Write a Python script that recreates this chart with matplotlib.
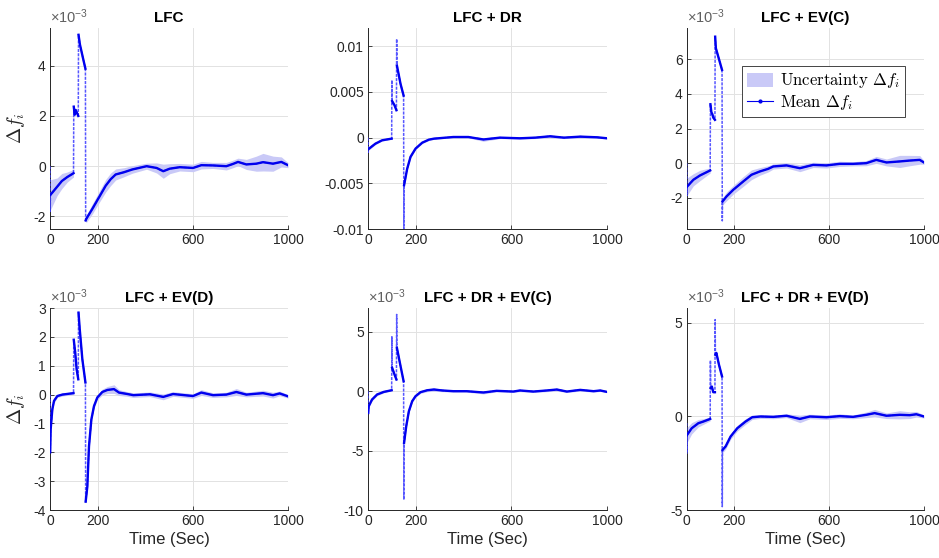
import numpy as np
import matplotlib
matplotlib.use("Agg")
import matplotlib.pyplot as plt
from matplotlib.lines import Line2D
from matplotlib.patches import Patch
from matplotlib.font_manager import FontProperties

plt.rcParams.update({
    "font.family": ["Liberation Sans", "DejaVu Sans"],
    "mathtext.fontset": "cm",
    "mathtext.rm": "Liberation Sans",
    "mathtext.it": "Liberation Sans:italic",
    "mathtext.bf": "Liberation Sans:bold",
    "axes.unicode_minus": False,
})

# ---------------- data (values in units of 1e-3) ----------------
titles = ["LFC", "LFC + DR", "LFC + EV(C)", "LFC + EV(D)", "LFC + DR + EV(C)", "LFC + DR + EV(D)"]
x_ticks = [0, 200, 600, 1000]

t_lfc = [0, 1, 2, 30, 50, 73, 99, 100, 104, 108, 119, 120, 126, 140, 149, 150, 153, 178, 206, 234,
         255, 276, 311, 346, 406, 448, 476, 503, 545, 601, 636, 685, 741, 769, 790, 825, 867, 895, 937, 972, 1000]
m_lfc = [0, -1.8, -1.14, -0.82, -0.59, -0.43, -0.28, 2.37, 2.05, 2.24, 2.0, 5.23, 4.84, 4.25, 3.88, -2.16, -2.09, -1.70, -1.24, -0.78,
         -0.52, -0.33, -0.24, -0.13, 0.0, -0.07, -0.2, -0.1, -0.04, -0.07, 0.04, 0.03, 0.0, 0.09, 0.17, 0.07, 0.1, 0.16, 0.1, 0.17, 0.04]
u_lfc = [0.05, 0.05, 0.6, 0.35, 0.3, 0.2, 0.15, 0.05, 0.05, 0.05, 0.05, 0.05, 0.05, 0.05, 0.05, 0.05, 0.15, 0.2, 0.22, 0.25,
         0.25, 0.22, 0.18, 0.15, 0.12, 0.2, 0.28, 0.2, 0.15, 0.15, 0.15, 0.12, 0.15, 0.15, 0.15, 0.2, 0.3, 0.35, 0.3, 0.2, 0.1]

t_dr = [0, 1, 2, 31, 59, 99, 100, 101, 111, 119, 120, 121, 136, 149, 150, 151, 164, 178, 199, 227,
        255, 276, 357, 420, 483, 552, 636, 700, 762, 820, 888, 958, 1000]
m_dr = [0, -1.6, -1.25, -0.66, -0.29, -0.11, 6.3, 4.0, 3.54, 3.0, 10.8, 7.9, 5.9, 4.6, -10.5, -5.2, -3.4, -2.1, -1.2, -0.55,
        -0.22, -0.11, 0.07, 0.07, -0.2, 0.0, -0.07, 0.0, 0.15, 0.0, 0.11, 0.04, -0.07]
u_dr = [0.05, 0.05, 0.15, 0.1, 0.08, 0.05, 0.05, 0.05, 0.05, 0.05, 0.05, 0.05, 0.05, 0.05, 0.05, 0.1, 0.12, 0.12, 0.1, 0.1,
        0.08, 0.08, 0.08, 0.1, 0.2, 0.1, 0.1, 0.1, 0.15, 0.1, 0.15, 0.1, 0.08]

t_evc = [0, 1, 2, 28, 56, 99, 100, 104, 108, 112, 119, 120, 123, 133, 149, 150, 151, 168, 196, 238,
         273, 308, 343, 365, 421, 477, 533, 589, 645, 701, 757, 799, 842, 898, 940, 982, 1000]
m_evc = [0, -1.87, -1.35, -0.96, -0.71, -0.42, 3.4, 2.94, 2.83, 2.63, 2.5, 7.3, 6.63, 6.15, 5.38, -3.33, -2.21, -1.92, -1.54, -1.06,
         -0.67, -0.48, -0.33, -0.19, -0.13, -0.29, -0.1, -0.13, -0.04, -0.04, 0.0, 0.19, 0.04, 0.1, 0.15, 0.19, 0.04]
u_evc = [0.05, 0.05, 0.5, 0.35, 0.3, 0.15, 0.05, 0.05, 0.05, 0.05, 0.05, 0.05, 0.05, 0.05, 0.05, 0.05, 0.2, 0.25, 0.25, 0.28,
         0.28, 0.22, 0.18, 0.15, 0.15, 0.2, 0.15, 0.15, 0.15, 0.12, 0.15, 0.2, 0.2, 0.35, 0.3, 0.25, 0.1]

t_evd = [0, 1, 3, 10, 17, 31, 52, 99, 100, 106, 112, 119, 120, 125, 136, 149, 150, 157, 164, 174,
         185, 199, 220, 241, 269, 290, 325, 350, 420, 476, 517, 601, 636, 685, 741, 783, 825, 895, 937, 965, 1000]
m_evd = [0, -2.0, -1.2, -0.51, -0.22, -0.05, 0.0, 0.05, 1.9, 1.47, 0.88, 0.53, 2.84, 2.28, 1.23, 0.42, -3.71, -3.19, -1.79, -0.86,
         -0.4, -0.1, 0.09, 0.16, 0.19, 0.07, 0.02, -0.02, 0.01, -0.08, 0.02, -0.05, 0.07, -0.02, 0.0, 0.09, 0.0, 0.05, -0.02, 0.04, -0.06]
u_evd = [0.05, 0.05, 0.15, 0.1, 0.08, 0.05, 0.05, 0.05, 0.05, 0.05, 0.05, 0.05, 0.05, 0.05, 0.05, 0.05, 0.05, 0.1, 0.1, 0.08,
         0.08, 0.08, 0.1, 0.12, 0.15, 0.1, 0.08, 0.08, 0.08, 0.1, 0.08, 0.08, 0.1, 0.08, 0.08, 0.12, 0.08, 0.1, 0.1, 0.08, 0.06]

t_drevc = [0, 1, 3, 17, 38, 66, 99, 100, 101, 111, 119, 120, 121, 132, 149, 150, 151, 160, 171, 185,
           199, 220, 248, 276, 311, 357, 413, 483, 538, 608, 636, 692, 748, 790, 832, 888, 944, 972, 1000]
m_drevc = [0, -1.83, -1.26, -0.7, -0.28, -0.06, 0.08, 4.58, 1.97, 1.4, 0.98, 6.46, 3.65, 2.53, 0.84, -9.13, -4.35, -2.95, -1.69, -0.84,
           -0.42, -0.08, 0.08, 0.14, 0.06, 0.0, 0.0, -0.11, 0.03, -0.03, 0.06, -0.03, 0.06, 0.14, -0.03, 0.11, 0.0, 0.06, -0.06]
u_drevc = [0.05, 0.05, 0.15, 0.12, 0.1, 0.08, 0.05, 0.05, 0.05, 0.05, 0.05, 0.05, 0.05, 0.05, 0.05, 0.05, 0.1, 0.12, 0.12, 0.1,
           0.1, 0.1, 0.12, 0.15, 0.1, 0.08, 0.08, 0.12, 0.08, 0.08, 0.1, 0.08, 0.1, 0.12, 0.08, 0.1, 0.08, 0.08, 0.06]

t_drevd = [0, 1, 2, 21, 49, 70, 99, 100, 101, 106, 112, 119, 120, 121, 125, 136, 149, 150, 151, 164,
           185, 213, 248, 276, 311, 365, 421, 477, 519, 589, 645, 701, 757, 792, 842, 898, 940, 968, 1000]
m_drevd = [-0.35, -1.96, -0.98, -0.63, -0.36, -0.27, -0.13, 3.0, 1.52, 1.6, 1.3, 1.3, 5.18, 3.3, 3.4, 2.77, 2.14, -4.82, -1.79, -1.6,
           -1.07, -0.63, -0.27, -0.04, 0.0, -0.02, 0.04, -0.13, 0.0, -0.04, 0.02, -0.02, 0.09, 0.18, 0.04, 0.09, 0.07, 0.12, 0.0]
u_drevd = [0.05, 0.05, 0.4, 0.3, 0.2, 0.15, 0.1, 0.05, 0.05, 0.05, 0.05, 0.05, 0.05, 0.05, 0.05, 0.05, 0.05, 0.05, 0.15, 0.15,
           0.15, 0.15, 0.15, 0.12, 0.1, 0.1, 0.1, 0.2, 0.12, 0.12, 0.12, 0.1, 0.15, 0.2, 0.15, 0.22, 0.18, 0.15, 0.08]

y_limits = [(-2.5, 5.5), (-10, 12), (-3.8, 7.8), (-4, 3), (-10, 7), (-5, 5.8)]
y_ticks = [[-2, 0, 2, 4], [-10, -5, 0, 5, 10], [-2, 0, 2, 4, 6],
           [-4, -3, -2, -1, 0, 1, 2, 3], [-10, -5, 0, 5], [-5, 0, 5]]
y_ticklabels_dr = ["-0.01", "-0.005", "0", "0.005", "0.01"]

series = [(t_lfc, m_lfc, u_lfc), (t_dr, m_dr, u_dr), (t_evc, m_evc, u_evc),
          (t_evd, m_evd, u_evd), (t_drevc, m_drevc, u_drevc), (t_drevd, m_drevd, u_drevd)]

# ---------------- styling ----------------
BAND = "#c9c9f7"
LINE = "#0000ee"
THIN = "#3a3aff"
TXT = "#262626"

lefts = [0.0532, 0.3919, 0.7313]
widths = [0.2535, 0.2545, 0.2527]
bottoms = [0.5896, 0.086]
heights = [0.3602, 0.362]

fig = plt.figure(figsize=(9.39, 5.58), dpi=100)
axes = []
for k in range(6):
    r, c = divmod(k, 3)
    ax = fig.add_axes([lefts[c], bottoms[r], widths[c], heights[r]])
    axes.append(ax)
    t, m, u = (np.asarray(a, dtype=float) for a in series[k])
    ax.fill_between(t, m - u, m + u, color=BAND, lw=0, zorder=2)
    # thin connecting line through all samples (jumps)
    ax.plot(t, m, color=THIN, lw=1.1, ls=(0, (2.0, 0.8)), alpha=0.85, zorder=3)
    # thick line only for continuous parts
    tt, mm = [], []
    for i in range(len(t)):
        if i > 0 and t[i] - t[i - 1] <= 1:
            tt.append(np.nan)
            mm.append(np.nan)
        tt.append(t[i])
        mm.append(m[i])
    ax.plot(tt, mm, color=LINE, lw=1.7, zorder=4, solid_joinstyle="round")

    ax.set_xlim(0, 1000)
    ax.set_ylim(*y_limits[k])
    ax.set_xticks(x_ticks)
    ax.set_xticklabels([str(v) for v in x_ticks])
    ax.set_yticks(y_ticks[k])
    if k == 1:
        ax.set_yticklabels(y_ticklabels_dr)
    else:
        ax.set_yticklabels([str(v) for v in y_ticks[k]])
        ax.text(0.0, 1.01, "×10$^{-3}$", transform=ax.transAxes, ha="left", va="bottom",
                fontsize=10.5, color="#606060", math_fontfamily="custom")
    ax.grid(True, color="#e2e2e2", lw=0.7)
    ax.set_axisbelow(True)
    for s in ["top", "right"]:
        ax.spines[s].set_visible(False)
    for s in ["left", "bottom"]:
        ax.spines[s].set_color(TXT)
        ax.spines[s].set_linewidth(0.7)
    ax.tick_params(direction="in", length=3, width=0.6, colors=TXT, labelsize=10, pad=3)
    ax.set_title(titles[k], fontsize=11, fontweight="bold", pad=4)
    if c == 0:
        ax.set_ylabel(r"$\Delta f_i$", fontsize=14, color=TXT)
        ax.yaxis.set_label_coords(-0.095, 0.5)
    if r == 1:
        ax.set_xlabel("Time (Sec)", fontsize=12, color=TXT, labelpad=3)

handles = [Patch(facecolor=BAND, edgecolor="none"),
           Line2D([], [], color=LINE, lw=0.8, marker=".", ms=4)]
labels = [r"Uncertainty $\Delta f_i$", r"Mean $\Delta f_i$"]
leg = axes[2].legend(handles, labels, loc="upper left", bbox_to_anchor=(0.232, 0.809),
                     borderaxespad=0, prop=FontProperties(family="cmr10", size=12),
                     fancybox=False, edgecolor=TXT, framealpha=1, handlelength=1.6,
                     handleheight=0.9, handletextpad=0.4, borderpad=0.3, labelspacing=0.15)
leg.get_frame().set_linewidth(0.6)

fig.savefig("out.png", dpi=100)
